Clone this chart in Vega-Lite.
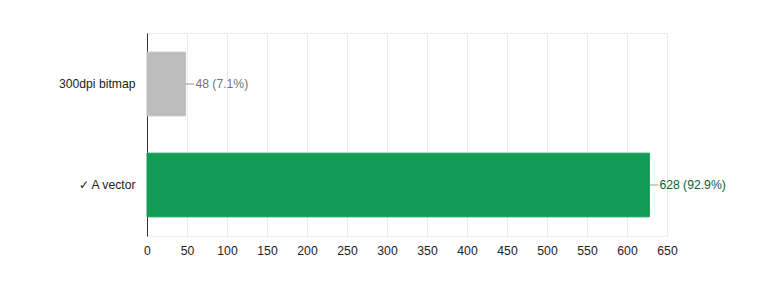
{
  "$schema": "https://vega.github.io/schema/vega-lite/v6.json",
  "autosize": {"type": "none"},
  "width": 520,
  "height": 203,
  "padding": {"left": 147, "top": 33, "right": 103, "bottom": 51},
  "background": "white",
  "config": {
    "font": "Liberation Sans",
    "view": {"stroke": "#ebebeb", "strokeWidth": 1}
  },
  "data": {
    "values": [
      {"option": "300dpi bitmap", "count": 48, "label": "48 (7.1%)", "fill": "#bdbdbd", "textColor": "#757575"},
      {"option": "✓ A vector", "count": 628, "label": "628 (92.9%)", "fill": "#129c56", "textColor": "#0b6232"}
    ]
  },
  "encoding": {
    "y": {
      "field": "option",
      "type": "nominal",
      "sort": null,
      "scale": {"paddingInner": 0.37, "paddingOuter": 0.19},
      "axis": {
        "title": null,
        "ticks": false,
        "labelPadding": 12,
        "labelFontSize": 12.2,
        "labelColor": "#222222",
        "domainColor": "#333333",
        "domainWidth": 1,
        "grid": false
      }
    },
    "x": {
      "field": "count",
      "type": "quantitative",
      "scale": {"domain": [0, 650], "nice": false},
      "axis": {
        "title": null,
        "values": [0, 50, 100, 150, 200, 250, 300, 350, 400, 450, 500, 550, 600, 650],
        "ticks": false,
        "domain": false,
        "labelPadding": 8,
        "labelFontSize": 12.2,
        "labelColor": "#222222",
        "labelOverlap": false,
        "gridColor": "#ebebeb",
        "labelFlush": false
      }
    }
  },
  "layer": [
    {
      "mark": {"type": "bar", "strokeWidth": 1},
      "encoding": {
        "fill": {"field": "fill", "type": "nominal", "scale": null},
        "stroke": {"field": "fill", "type": "nominal", "scale": null}
      }
    },
    {
      "mark": {"type": "rule", "x2Offset": 9, "color": "#999999", "strokeWidth": 1},
      "encoding": {
        "x2": {"field": "count"}
      }
    },
    {
      "mark": {"type": "text", "align": "left", "baseline": "middle", "dx": 10, "fontSize": 12.2},
      "encoding": {
        "text": {"field": "label"},
        "color": {"field": "textColor", "type": "nominal", "scale": null}
      }
    }
  ]
}
